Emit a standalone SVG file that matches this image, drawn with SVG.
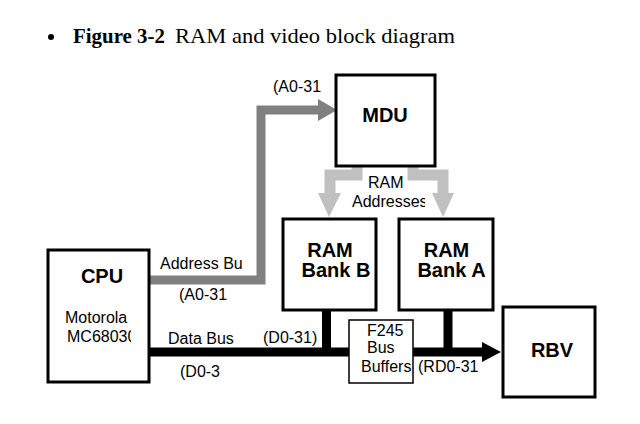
<svg xmlns="http://www.w3.org/2000/svg" width="640" height="424" viewBox="0 0 640 424">
<style>
.box{fill:#fff;stroke:#000;stroke-width:3}
.thin{fill:#fff;stroke:#000;stroke-width:1.5}
.t{font-family:"Liberation Sans",Arial,sans-serif;font-size:16px;fill:#000}
.b{font-family:"Liberation Sans",Arial,sans-serif;font-weight:bold;font-size:20px;fill:#000;text-anchor:middle}
.title{font-family:"Liberation Serif","Times New Roman",serif;font-size:21px;fill:#000}
</style>
<defs>
<clipPath id="cpuclip"><rect x="50" y="252" width="81" height="128"/></clipPath>
<clipPath id="addrclip"><rect x="340" y="180" width="85" height="35"/></clipPath>
<clipPath id="dclip"><rect x="170" y="360" width="51" height="25"/></clipPath>
</defs>
<rect width="640" height="424" fill="#fff"/>
<g id="title">
<circle cx="51" cy="37" r="3" fill="#000"/>
<text class="title" x="73" y="43" font-weight="bold" textLength="92" lengthAdjust="spacingAndGlyphs">Figure 3-2</text>
<text class="title" x="175" y="43" textLength="280" lengthAdjust="spacingAndGlyphs">RAM and video block diagram</text>
</g>
<g id="connectors">
<path d="M149,280 H261 V110 H319" fill="none" stroke="#808080" stroke-width="9"/>
<polygon points="318,99 337,110 318,121" fill="#808080"/>
<path d="M357,166 V175 H330 V194" fill="none" stroke="#c0c0c0" stroke-width="11"/>
<polygon points="318,193 341,193 329,217" fill="#c0c0c0"/>
<path d="M413,166 V175 H443 V194" fill="none" stroke="#c0c0c0" stroke-width="11"/>
<polygon points="432,193 454,193 443,217" fill="#c0c0c0"/>
<path d="M149,352 H349" fill="none" stroke="#000" stroke-width="9"/>
<path d="M413,352 H483" fill="none" stroke="#000" stroke-width="9"/>
<polygon points="482,342 501,352 482,362" fill="#000"/>
<path d="M326.5,310 V352" fill="none" stroke="#000" stroke-width="9"/>
<path d="M448,310 V352" fill="none" stroke="#000" stroke-width="9"/>
<text class="t" x="273" y="92">(A0-31</text>
<text class="t" x="160" y="269">Address Bu</text>
<text class="t" x="179" y="300">(A0-31</text>
<text class="t" x="168" y="344">Data Bus</text>
<text class="t" x="180" y="377" clip-path="url(#dclip)">(D0-31</text>
<text class="t" x="263" y="343">(D0-31)</text>
<text class="t" x="368" y="188">RAM</text>
<text class="t" x="352" y="207" clip-path="url(#addrclip)">Addresses</text>
<text class="t" x="418" y="372">(RD0-31</text>
</g>
<g id="cpu">
<rect class="box" x="48" y="250" width="101" height="132"/>
<text class="b" x="102" y="283" font-size="23">CPU</text>
<text class="t" x="65" y="323">Motorola</text>
<text class="t" x="67" y="342" clip-path="url(#cpuclip)">MC68030</text>
</g>
<g id="mdu">
<rect class="box" x="336" y="75" width="99" height="91"/>
<text class="b" x="385" y="122">MDU</text>
</g>
<g id="bankB">
<rect class="box" x="283" y="219" width="93" height="91"/>
<text class="b" x="330" y="257">RAM</text>
<text class="b" x="336" y="277">Bank B</text>
</g>
<g id="bankA">
<rect class="box" x="399" y="219" width="94" height="91"/>
<text class="b" x="446.5" y="257">RAM</text>
<text class="b" x="451.5" y="277">Bank A</text>
</g>
<g id="f245">
<rect class="thin" x="349" y="320" width="64" height="63"/>
<text class="t" x="367" y="336">F245</text>
<text class="t" x="367" y="353">Bus</text>
<text class="t" x="361" y="372">Buffers</text>
</g>
<g id="rbv">
<rect class="box" x="503" y="307" width="92" height="90"/>
<text class="b" x="552" y="357">RBV</text>
</g>
</svg>
